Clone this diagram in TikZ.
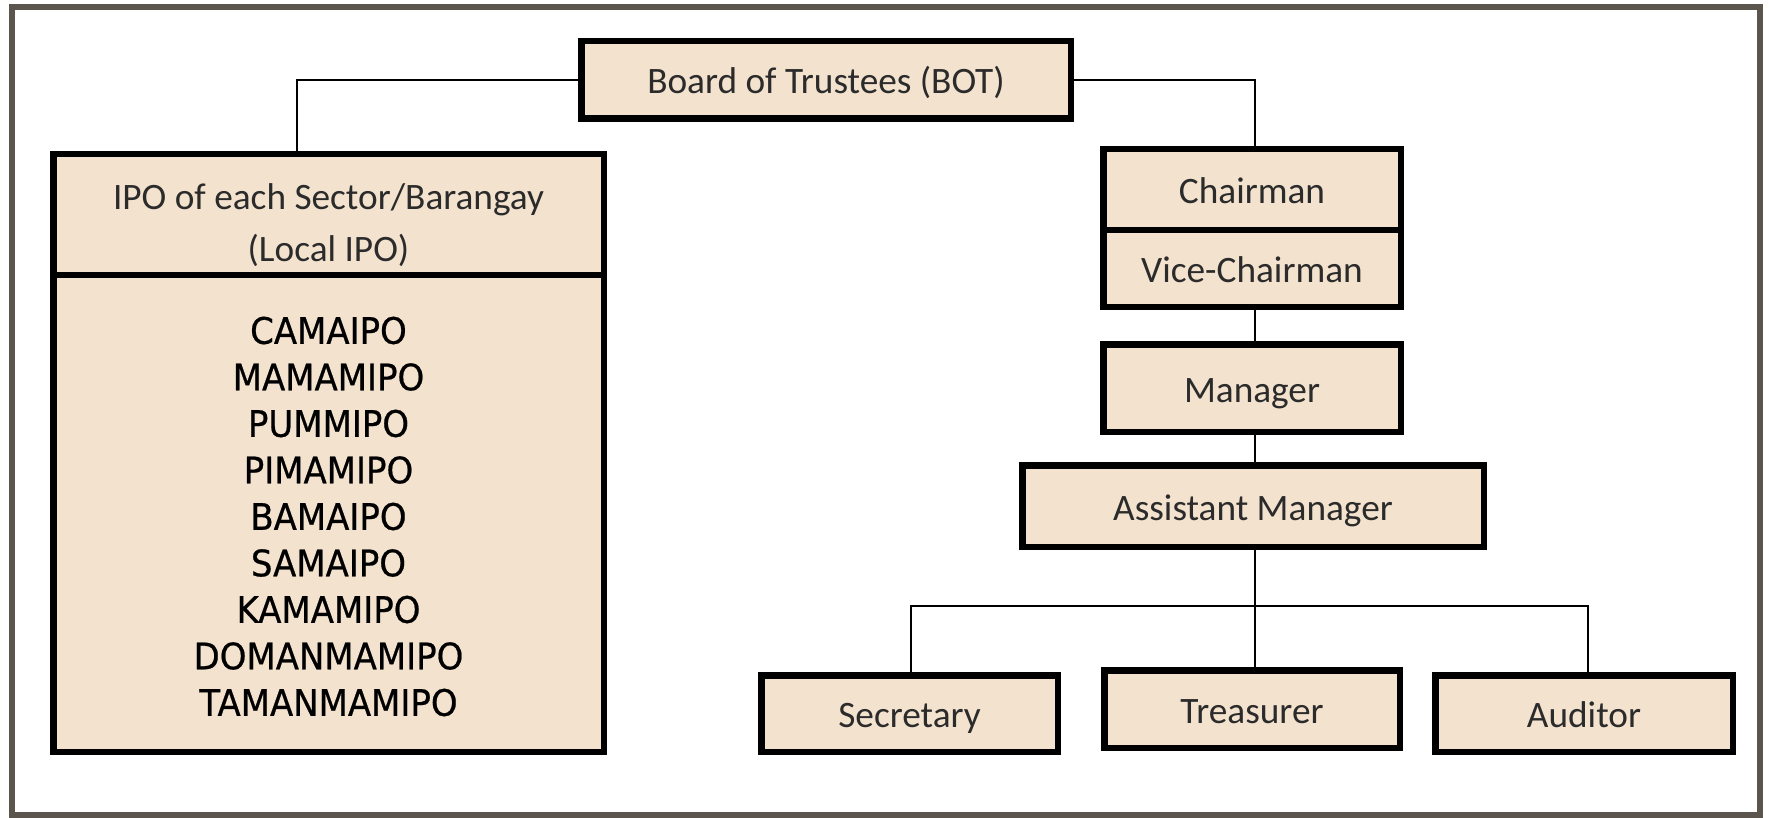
\documentclass[tikz,border=0pt]{standalone}
\usepackage{fontspec}
\newfontfamily\calibrifont{Carlito}
\newfontfamily\listfont[FakeStretch=0.93,FakeBold=0.6]{DejaVu Sans}
\definecolor{boxfill}{HTML}{F3E2CE}
\definecolor{framegray}{HTML}{5C554E}
\definecolor{labelgray}{HTML}{2B2B2B}
\tikzset{
  orgbox/.style={draw=black, line width=6.5pt, fill=boxfill, inner sep=0pt,
    font={\calibrifont\fontsize{37.3}{44}\selectfont}, text=labelgray,
    text height=28pt, text depth=0pt},
  link/.style={draw=black, line width=2.8pt}
}
\begin{document}
\begin{tikzpicture}[x=1pt,y=-1pt]
  \useasboundingbox (0,0) rectangle (1769,818);
  \fill[white] (0,0) rectangle (1769,818);
  % outer frame
  \draw[framegray, line width=5.5pt] (12,7) rectangle (1760,815);

  % top level
  \node[orgbox, minimum width=489.5pt, minimum height=77.5pt] (bot) at (826,80) {Board of Trustees (BOT)};

  % left branch: local IPOs
  \node[orgbox, minimum width=550.5pt, minimum height=120.75pt] (ipohead) at (328.5,214.6) {};
  \node[align=center, inner sep=0pt, text=labelgray,
        font={\calibrifont\fontsize{37.3}{52}\selectfont}] (ipotitle) at (328.5,225.5)
        {IPO of each Sector/Barangay\\(Local IPO)};
  \node[orgbox, minimum width=550.5pt, minimum height=476.75pt] (ipolist) at (328.5,513.4) {};
  \node[align=center, inner sep=0pt, text=black,
        font={\listfont\fontsize{36.5}{46.5}\selectfont}] (ipoitems) at (328.5,516.5)
        {CAMAIPO\\MAMAMIPO\\PUMMIPO\\PIMAMIPO\\BAMAIPO\\SAMAIPO\\KAMAMIPO\\DOMANMAMIPO\\TAMANMAMIPO};

  % right branch: officers
  \node[orgbox, minimum width=297.5pt, minimum height=80.75pt] (chair) at (1252,189.6) {Chairman};
  \node[orgbox, minimum width=297.5pt, minimum height=76.75pt] (vice) at (1252,268.4) {Vice-Chairman};
  \node[orgbox, minimum width=297.5pt, minimum height=87.5pt] (mgr) at (1252,388) {Manager};
  \node[orgbox, minimum width=461.5pt, minimum height=81.5pt] (am) at (1253,506) {Assistant Manager};
  \node[orgbox, minimum width=296.5pt, minimum height=76.5pt] (sec) at (909.5,713.5) {Secretary};
  \node[orgbox, minimum width=295.5pt, minimum height=77.5pt] (tre) at (1252,709) {Treasurer};
  \node[orgbox, minimum width=297.5pt, minimum height=76.5pt] (aud) at (1584,713.5) {Auditor};
  \coordinate (bar) at (1255,606);

  % connectors
  \draw[link] (bot.west) -| ([xshift=-31.5pt]ipohead.north);
  \draw[link] (bot.east) -| ([xshift=3pt]chair.north);
  \draw[link] ([xshift=3pt]vice.south) -- ([xshift=3pt]mgr.north);
  \draw[link] ([xshift=3pt]mgr.south) -- ([xshift=2pt]am.north);
  \draw[link] ([xshift=2pt]am.south) -- ([xshift=3pt]tre.north);
  \draw[link] ([xshift=1.5pt]sec.north) |- (bar) -| ([xshift=4pt]aud.north);
\end{tikzpicture}
\end{document}
